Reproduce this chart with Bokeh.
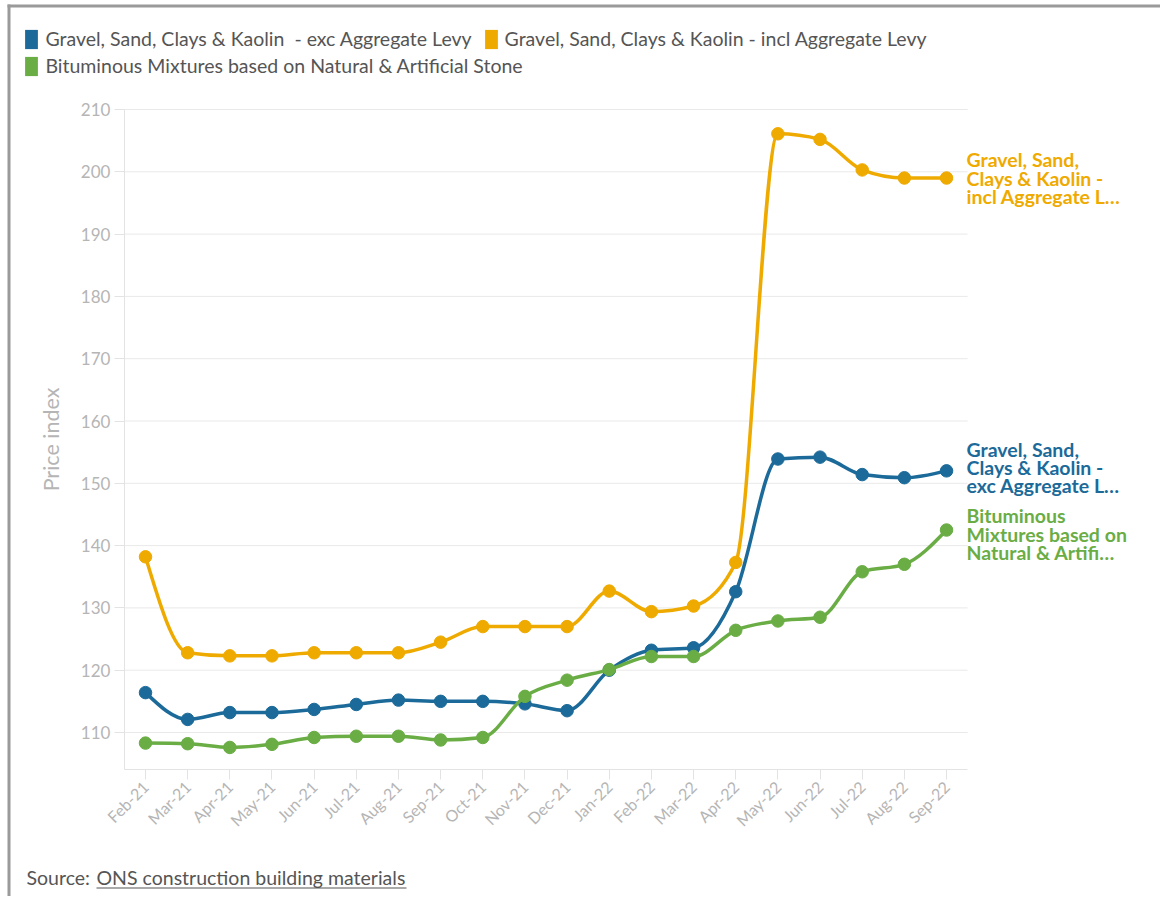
import numpy as np
from bokeh.plotting import figure
from bokeh.models import (Range1d, FixedTicker, Legend, LegendItem, Label,
                          ColumnDataSource, BoxAnnotation, LinearAxis)
from bokeh.embed import file_html
from bokeh.resources import INLINE

months = ["Feb-21", "Mar-21", "Apr-21", "May-21", "Jun-21", "Jul-21", "Aug-21",
          "Sep-21", "Oct-21", "Nov-21", "Dec-21", "Jan-22", "Feb-22", "Mar-22",
          "Apr-22", "May-22", "Jun-22", "Jul-22", "Aug-22", "Sep-22"]
exc_levy = [116.4, 112.1, 113.2, 113.2, 113.7, 114.5, 115.2, 115.0, 115.0, 114.6,
            113.5, 120.0, 123.2, 123.6, 132.6, 153.9, 154.2, 151.4, 150.9, 152.0]
incl_levy = [138.2, 122.8, 122.3, 122.3, 122.8, 122.8, 122.8, 124.5, 127.0, 127.0,
             127.0, 132.7, 129.4, 130.3, 137.3, 206.1, 205.2, 200.3, 199.0, 199.0]
bituminous = [108.3, 108.2, 107.6, 108.1, 109.2, 109.4, 109.4, 108.8, 109.2, 115.8,
              118.4, 120.1, 122.2, 122.2, 126.4, 127.9, 128.5, 135.8, 137.0, 142.5]
series_names = ["Gravel, Sand, Clays & Kaolin  - exc Aggregate Levy",
                "Gravel, Sand, Clays & Kaolin - incl Aggregate Levy",
                "Bituminous Mixtures based on Natural & Artificial Stone"]
end_labels = ["Gravel, Sand,\nClays & Kaolin -\nexc Aggregate L\u2026",
              "Gravel, Sand,\nClays & Kaolin -\nincl Aggregate L\u2026",
              "Bituminous\nMixtures based on\nNatural & Artifi\u2026"]
y_ticks = [110, 120, 130, 140, 150, 160, 170, 180, 190, 200, 210]

colors = ["#1b6a99", "#efaa00", "#6aad45"]
label_offsets = [3, 0, -4]
FONT = "Lato"
W, H = 1160, 896
# plot-area extents (axis bounds)
X_LO, X_HI = -0.5, 19.5
Y_LO, Y_HI = 104, 210


def monotone_bezier(xs, ys):
    xs = np.asarray(xs, float)
    ys = np.asarray(ys, float)
    n = len(xs)
    h = np.diff(xs)
    s = np.diff(ys) / h
    t = np.zeros(n)
    for i in range(1, n - 1):
        h0, h1, s0, s1 = h[i - 1], h[i], s[i - 1], s[i]
        p_ = (s0 * h1 + s1 * h0) / (h0 + h1)
        t[i] = (np.sign(s0) + np.sign(s1)) * min(abs(s0), abs(s1), 0.5 * abs(p_))
    t[0] = (3 * s[0] - t[1]) / 2
    t[-1] = (3 * s[-1] - t[-2]) / 2
    dx = h / 3
    return dict(x0=xs[:-1], y0=ys[:-1], x1=xs[1:], y1=ys[1:],
                cx0=xs[:-1] + dx, cy0=ys[:-1] + dx * t[:-1],
                cx1=xs[1:] - dx, cy1=ys[1:] - dx * t[1:])


# the frame covers the whole canvas; the axes sit inside it at fixed locations
px_x, x0_px = 42.16, 145.0
px_y, y_top_px = 6.23, 109.0
x_range = Range1d(-x0_px / px_x, (W - x0_px) / px_x)
y_range = Range1d(Y_HI - (H - y_top_px) / px_y, Y_HI + y_top_px / px_y)

p = figure(width=W, height=H, x_range=x_range, y_range=y_range,
           output_backend="svg", toolbar_location=None,
           x_axis_location=None, y_axis_location=None,
           min_border=0, min_border_left=0, min_border_right=0,
           min_border_top=0, min_border_bottom=0)
p.outline_line_color = None
p.background_fill_color = "white"
p.border_fill_color = "white"
p.xgrid.visible = False
p.ygrid.visible = False

xidx = list(range(len(months)))

# horizontal grid lines limited to the plot area
p.segment(x0=[X_LO] * len(y_ticks), x1=[X_HI] * len(y_ticks), y0=y_ticks,
          y1=y_ticks, line_color="#e9e9e9", line_width=1)

xaxis = LinearAxis(fixed_location=Y_LO, bounds=(X_LO, X_HI),
                   ticker=FixedTicker(ticks=xidx),
                   major_label_overrides={i: m for i, m in enumerate(months)},
                   major_label_orientation=np.pi / 4)
yaxis = LinearAxis(fixed_location=X_LO, bounds=(Y_LO, Y_HI),
                   ticker=FixedTicker(ticks=y_ticks))
for ax in (xaxis, yaxis):
    ax.axis_line_color = "#e3e3e3"
    ax.major_tick_line_color = "#e3e3e3"
    ax.minor_tick_line_color = None
    ax.major_tick_out = 10
    ax.major_tick_in = 0
    ax.major_label_text_color = "#b5b5b5"
    ax.major_label_text_font = FONT
    ax.major_label_text_font_size = "16px"
    ax.major_label_standoff = 4
yaxis.major_label_text_font_size = "17px"
yaxis.axis_label = "Price index"
yaxis.axis_label_text_font = FONT
yaxis.axis_label_text_font_style = "normal"
yaxis.axis_label_text_font_size = "21.5px"
yaxis.axis_label_text_color = "#b5b5b5"
yaxis.axis_label_standoff = 14
p.add_layout(xaxis, "below")
p.add_layout(yaxis, "left")

all_series = [exc_levy, incl_levy, bituminous]
order = [1, 0, 2]
for k in order:
    src = ColumnDataSource(monotone_bezier(xidx, all_series[k]))
    p.bezier(x0="x0", y0="y0", x1="x1", y1="y1", cx0="cx0", cy0="cy0",
             cx1="cx1", cy1="cy1", source=src, line_color=colors[k], line_width=3.5)
    p.scatter(xidx, all_series[k], size=12.5, fill_color=colors[k],
              line_color=colors[k])

# legend swatches (renderers with nothing to draw; only their colour is used)
items = []
for k in range(3):
    r = p.quad(left=[np.nan], right=[np.nan], top=[np.nan], bottom=[np.nan],
               fill_color=colors[k], line_color=None)
    items.append(LegendItem(label=series_names[k], renderers=[r]))

leg_kw = dict(orientation="horizontal", glyph_width=16, glyph_height=24,
              label_height=24, label_standoff=6, spacing=11, padding=0, margin=0,
              background_fill_alpha=0, border_line_color=None,
              label_text_font=FONT, label_text_font_size="19.5px",
              label_text_color="#555555")
p.add_layout(Legend(items=items[:2], location=(23.4, H - 50.6), **leg_kw), "center")
p.add_layout(Legend(items=items[2:], location=(23.4, H - 77.6), **leg_kw), "center")

# end labels
for k in range(3):
    p.add_layout(Label(x=xidx[-1], y=all_series[k][-1], x_offset=20,
                       y_offset=label_offsets[k], text=end_labels[k],
                       text_font=FONT, text_font_style="bold",
                       text_font_size="19.5px", text_color=colors[k],
                       text_baseline="middle", text_align="left",
                       text_line_height=0.79))

# source
p.add_layout(Label(x=26, y=H - 877, x_units="screen", y_units="screen",
                   text="Source:", text_font=FONT, text_font_size="19.5px",
                   text_color="#555555", text_baseline="middle"))
p.add_layout(Label(x=96, y=H - 877, x_units="screen", y_units="screen",
                   text="ONS construction building materials", text_font=FONT,
                   text_font_size="19.5px", text_color="#555555",
                   text_baseline="middle"))
p.add_layout(BoxAnnotation(left=96, right=406, bottom=H - 888, top=H - 887,
                           left_units="screen", right_units="screen",
                           bottom_units="screen", top_units="screen",
                           fill_color="#555555", fill_alpha=1, line_color=None))
# outer frame border (left and top)
p.add_layout(BoxAnnotation(left=7, right=10, bottom=0, top=H - 4,
                           left_units="screen", right_units="screen",
                           bottom_units="screen", top_units="screen",
                           fill_color="#9a9a9a", fill_alpha=1, line_color=None))
p.add_layout(BoxAnnotation(left=7, right=W, bottom=H - 7, top=H - 4,
                           left_units="screen", right_units="screen",
                           bottom_units="screen", top_units="screen",
                           fill_color="#9a9a9a", fill_alpha=1, line_color=None))

open("out.html", "w").write(file_html(p, INLINE))
